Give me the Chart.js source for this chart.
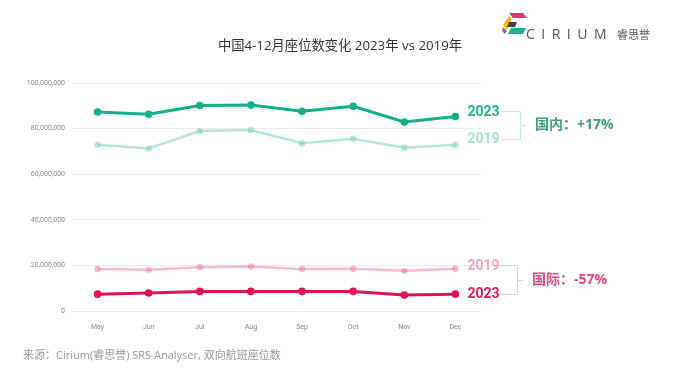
<!DOCTYPE html>
<html>
<head>
<meta charset="utf-8">
<script src="https://cdn.jsdelivr.net/npm/chart.js@4.4.1/dist/chart.umd.min.js"></script>
<style>
  html, body { margin: 0; padding: 0; background: #fff; }
  #wrap { width: 678px; height: 372px; position: relative; }
</style>
</head>
<body>
<div id="wrap"><canvas id="seatChart" width="678" height="372"></canvas></div>
<script>
// Data
const months = ['May', 'Jun', 'Jul', 'Aug', 'Sep', 'Oct', 'Nov', 'Dec'];
const domestic2023 = [87300000, 86300000, 90100000, 90300000, 87600000, 89800000, 82900000, 85300000];
const domestic2019 = [72900000, 71300000, 78900000, 79400000, 73600000, 75500000, 71600000, 72900000];
const intl2019 = [18400000, 18100000, 19200000, 19500000, 18400000, 18500000, 17600000, 18500000];
const intl2023 = [7400000, 7900000, 8600000, 8600000, 8600000, 8600000, 7000000, 7400000];
const yTicks = [0, 20000000, 40000000, 60000000, 80000000, 100000000];

const titleText = '中国4-12月座位数变化 2023年 vs 2019年';
const sourceText = '来源：Cirium(睿思誉) SRS Analyser, 双向航班座位数';

const cjkFont = '"Open Sans", "Noto Sans CJK SC", sans-serif';
const labelFont = 'Roboto, "Noto Sans CJK SC", sans-serif';

Chart.defaults.font.family = labelFont;
Chart.defaults.color = '#888';

// Extra drawing: title, end labels, brackets, logo, source
const annotations = {
    id: 'annotations',
    afterDraw(chart) {
        const ctx = chart.ctx;
        const x = chart.scales.x;
        const y = chart.scales.y;
        const last = months.length - 1;
        const lx = x.getPixelForValue(last) + 12;

        ctx.save();
        ctx.textBaseline = 'middle';

        // title
        ctx.fillStyle = '#333';
        ctx.font = '13.3px ' + cjkFont;
        ctx.textAlign = 'center';
        ctx.fillText(titleText, 340, 46);

        // end labels
        ctx.textAlign = 'left';
        ctx.font = 'bold 14px ' + labelFont;
        const ends = [
            [domestic2023[last], '2023', '#1bb38c', -4],
            [domestic2019[last], '2019', '#a6e3cf', -5],
            [intl2019[last], '2019', '#f3a3bd', -2],
            [intl2023[last], '2023', '#e3155c', 0]
        ];
        ends.forEach(([v, t, c, dy]) => {
            ctx.fillStyle = c;
            ctx.fillText(t, lx, y.getPixelForValue(v) + dy);
        });

        // brackets
        function bracket(y1, y2, x1, x2, tickEnd, color) {
            ctx.strokeStyle = color;
            ctx.lineWidth = 1;
            ctx.beginPath();
            ctx.moveTo(x1, y1 + 0.5); ctx.lineTo(x2 + 0.5, y1 + 0.5);
            ctx.lineTo(x2 + 0.5, y2 + 0.5); ctx.lineTo(x1, y2 + 0.5);
            const mid = Math.round((y1 + y2) / 2) + 0.5;
            ctx.moveTo(x2 + 0.5, mid); ctx.lineTo(tickEnd, mid);
            ctx.stroke();
            return mid;
        }
        const dTop = y.getPixelForValue(domestic2023[last]) - 6;
        const dBot = y.getPixelForValue(domestic2019[last]) - 6;
        const dMid = bracket(Math.round(dTop), Math.round(dBot), 502, 520, 526, '#c6ecdf');
        const iTop = y.getPixelForValue(intl2019[last]) - 4;
        const iBot = y.getPixelForValue(intl2023[last]);
        const iMid = bracket(Math.round(iTop), Math.round(iBot), 499, 517, 523, '#f6c4d4');

        ctx.font = 'bold 14px ' + cjkFont;
        ctx.fillStyle = '#3e9c7f';
        ctx.fillText('国内：+17%', 535, dMid);
        ctx.fillStyle = '#e8457a';
        ctx.fillText('国际：-57%', 532, iMid);

        // logo mark
        function poly(color, pts) {
            ctx.fillStyle = color;
            ctx.beginPath();
            ctx.moveTo(pts[0][0], pts[0][1]);
            pts.slice(1).forEach(p => ctx.lineTo(p[0], p[1]));
            ctx.closePath();
            ctx.fill();
        }
        poly('#e8336d', [[509, 13], [523, 13], [527, 18], [513, 18]]);
        poly('#f6b90f', [[509, 16], [512, 19], [507, 30], [503, 25]]);
        poly('#404040', [[509, 22], [517, 22], [515, 27], [507, 27]]);
        poly('#1ab394', [[511, 28], [526, 28], [523, 34], [508, 34]]);
        poly('#7a7a7a', [[503, 27], [507, 31], [505, 34], [502, 31]]);

        // logo text
        ctx.fillStyle = '#555';
        ctx.font = '14px "Open Sans", sans-serif';
        ctx.letterSpacing = '6.5px';
        ctx.fillText('CIRIUM', 526, 35);
        ctx.letterSpacing = '0px';
        ctx.font = '11px "Noto Sans CJK SC", sans-serif';
        ctx.fillText('睿思誉', 617, 35);

        // source
        ctx.fillStyle = '#999';
        ctx.font = '11px ' + cjkFont;
        ctx.fillText(sourceText, 23, 356);

        ctx.restore();
    }
};

function lineSet(label, data, color, width, radius) {
    return {
        label: label,
        data: data,
        borderColor: color,
        backgroundColor: color,
        borderWidth: width,
        pointRadius: radius,
        pointBorderWidth: 0,
        pointBackgroundColor: color,
        tension: 0,
        fill: false
    };
}

const ctx = document.getElementById('seatChart').getContext('2d');
new Chart(ctx, {
    type: 'line',
    data: {
        labels: months,
        datasets: [
            lineSet('国内 2023', domestic2023, '#13b08a', 3, 3.8),
            lineSet('国内 2019', domestic2019, 'rgba(120, 214, 186, 0.55)', 2.5, 3.2),
            lineSet('国际 2019', intl2019, 'rgba(238, 120, 160, 0.5)', 2.5, 3.2),
            lineSet('国际 2023', intl2023, '#e0135a', 3, 3.8)
        ]
    },
    options: {
        responsive: false,
        animation: false,
        layout: {
            padding: { left: 0, right: 197, top: 83, bottom: 41 }
        },
        plugins: {
            legend: { display: false },
            tooltip: { enabled: false }
        },
        scales: {
            x: {
                offset: true,
                grid: { display: false },
                border: { display: false },
                ticks: { font: { size: 7 }, color: '#888', padding: 4 },
                afterFit: s => { s.height = 20; }
            },
            y: {
                min: 0,
                max: 100000000,
                afterBuildTicks: s => { s.ticks = yTicks.map(v => ({ value: v })); },
                grid: { color: '#ececec', drawTicks: false },
                border: { display: false },
                ticks: {
                    font: { size: 7 },
                    color: '#888',
                    padding: 7,
                    callback: v => v.toLocaleString('en-US')
                },
                afterFit: s => { s.width = 72; }
            }
        }
    },
    plugins: [annotations]
});
</script>
</body>
</html>
